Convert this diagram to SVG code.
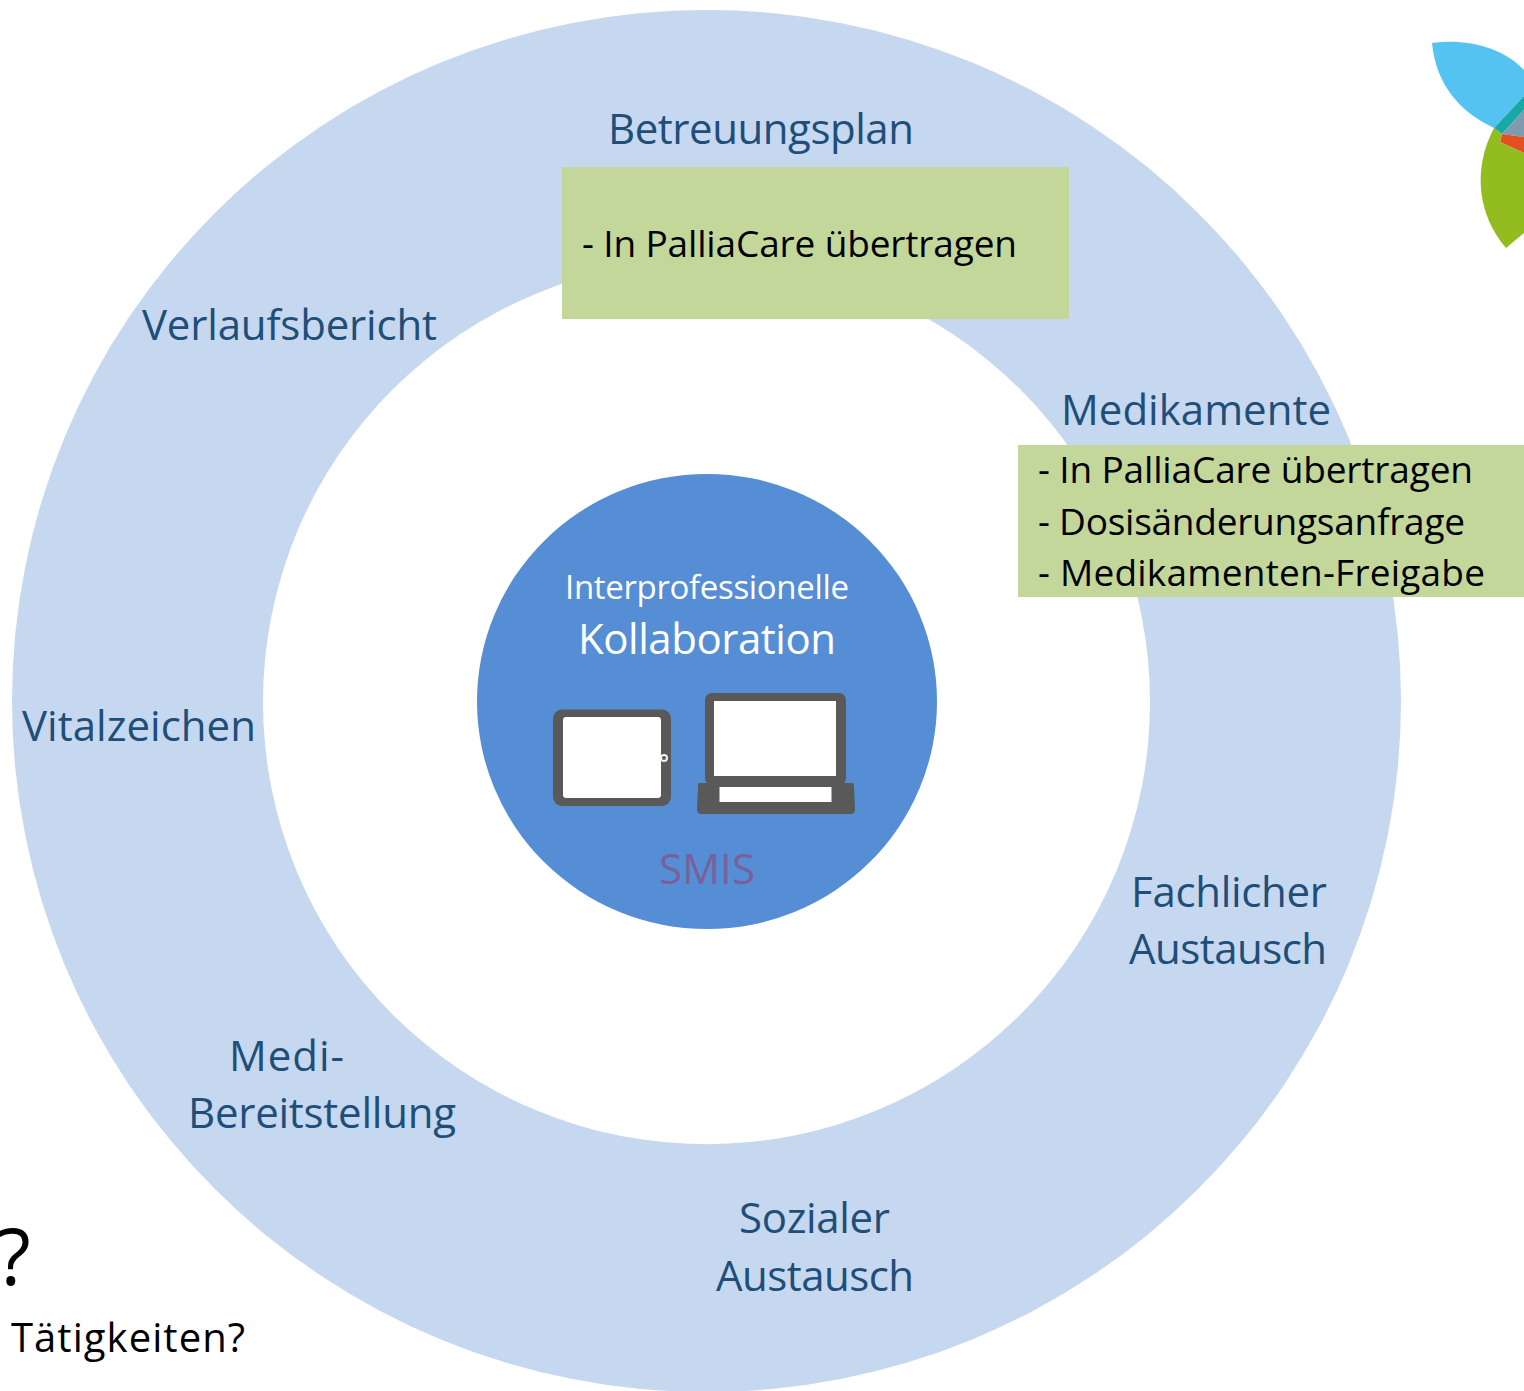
<svg xmlns="http://www.w3.org/2000/svg" width="1524" height="1391" viewBox="0 0 1524 1391">
<style>
text{font-family:"Open Sans","Noto Sans","Liberation Sans",sans-serif}
.l{font-size:42px;fill:#1f4e79}
.b{font-size:37px;fill:#000}
</style>
<rect width="1524" height="1391" fill="#fff"/>
<g id="ring"><path fill="#c6d8f0" fill-rule="evenodd" d="M12 701a694.500 691 0 1 0 1389 0a694.500 691 0 1 0-1389 0ZM263 702a443.500 442 0 1 1 887 0a443.500 442 0 1 1-887 0Z"/></g>
<g id="logo">
<path d="M1432 43C1465 38 1503 47 1524 70V96L1494 128C1460 112 1436 85 1432 43Z" fill="#55c3f1"/>
<path d="M1494 128L1524 96V110L1502 134Z" fill="#17a9a5"/>
<path d="M1502 134L1524 110V137Z" fill="#7f9bb0"/>
<path d="M1502 134L1524 137V153L1500 142Z" fill="#e2501f"/>
<path d="M1494 128L1502 134L1500 142L1524 153V233L1506 248C1478 215 1472 170 1494 128Z" fill="#93bd1e"/>
</g>
<g id="center">
<ellipse cx="707" cy="701.500" rx="230" ry="227.500" fill="#558ed5"/>
<text x="565" y="599" font-size="33" fill="#fff" textLength="284">Interprofessionelle</text>
<text x="578" y="654" font-size="42" fill="#fff" textLength="258">Kollaboration</text>
<text x="659" y="884" font-size="42" fill="#7a5f9a" textLength="96">SMIS</text>
</g>
<g id="tablet"><rect x="553" y="709.500" width="118" height="96.500" rx="9" fill="#595959"/><rect x="563" y="717" width="98" height="81" rx="3" fill="#fff"/><circle cx="664" cy="758" r="3" fill="#595959" stroke="#f2f2f2" stroke-width="2"/></g>
<g id="laptop"><path d="M699 783H852Q854 783 854 787L855 810Q855 814 851 814H701Q697 814 697 810L698 787Q698 783 699 783Z" fill="#595959"/><rect x="705" y="693" width="141" height="92" rx="7" fill="#595959"/><rect x="714" y="701" width="122" height="75" fill="#fff"/><rect x="719.500" y="787" width="112" height="15" fill="#fff"/></g>
<g id="betreuungsplan"><text class="l" x="608" y="144" textLength="306">Betreuungsplan</text><rect x="562" y="167" width="507" height="152" fill="#c4d79b"/><text class="b" x="582" y="257" textLength="435">- In PalliaCare übertragen</text></g>
<g id="medikamente"><text class="l" x="1061" y="425" textLength="270">Medikamente</text><rect x="1018" y="445" width="506" height="152" fill="#c4d79b"/><text class="b" x="1038" y="483" textLength="435">- In PalliaCare übertragen</text><text class="b" x="1038" y="535" textLength="427">- Dosisänderungsanfrage</text><text class="b" x="1038" y="586" textLength="447">- Medikamenten-Freigabe</text></g>
<g id="verlaufsbericht"><text class="l" x="142" y="340" textLength="295">Verlaufsbericht</text></g>
<g id="vitalzeichen"><text class="l" x="22" y="741" textLength="234">Vitalzeichen</text></g>
<g id="fachlicher"><text class="l" x="1131" y="907" textLength="196">Fachlicher</text><text class="l" x="1129" y="964" textLength="198">Austausch</text></g>
<g id="medi"><text class="l" x="229" y="1071" textLength="115">Medi-</text><text class="l" x="188" y="1128" textLength="268">Bereitstellung</text></g>
<g id="sozialer"><text class="l" x="739" y="1233" textLength="151">Sozialer</text><text class="l" x="716" y="1291" textLength="198">Austausch</text></g>
<g id="frage"><text x="-3" y="1285" font-size="78" font-weight="500" fill="#000">?</text><text x="11" y="1352" font-size="40" fill="#000" textLength="234">Tätigkeiten?</text></g>
</svg>
